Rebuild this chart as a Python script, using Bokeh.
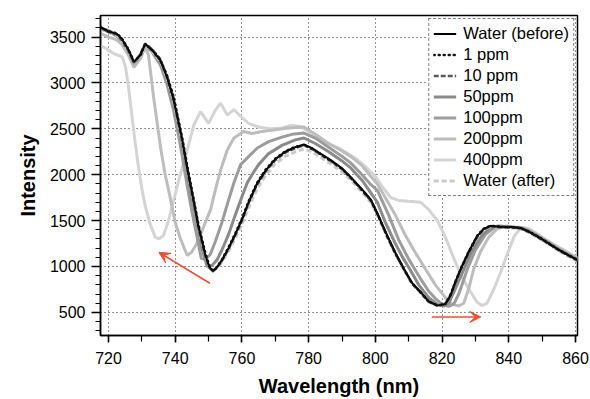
from bokeh.plotting import figure
from bokeh.models import (Range1d, Legend, LegendItem, Arrow, VeeHead,
                          SingleIntervalTicker)
from bokeh.embed import file_html
from bokeh.resources import INLINE

# ---------------- data ----------------
wl_base = [717.6, 720, 722.5, 724, 726, 727.6, 729.5, 731, 733, 735.5, 737.5, 739.5, 742, 744,
           745.6, 747, 749, 750.2, 751.2, 752.5, 754, 756, 758, 760, 762, 764.5, 767, 770, 773,
           776, 778.6, 781, 784, 787, 790, 793, 796, 798.6, 800.6, 803.6, 806, 808.6, 811, 813.6,
           816, 818.6, 821, 822.5, 824, 825.6, 828, 830.6, 832.5, 834.6, 838, 841, 843.6, 846,
           848, 851.6, 855, 858, 860.6]
water_before = [3610, 3560, 3535, 3480, 3360, 3230, 3300, 3425, 3360, 3250, 3070, 2820, 2400, 2000,
                1700, 1430, 1130, 1000, 950, 990, 1070, 1200, 1350, 1510, 1700, 1900, 2040, 2170,
                2250, 2300, 2330, 2290, 2220, 2150, 2070, 1960, 1840, 1731, 1580, 1334, 1150, 973,
                820, 721, 620, 576, 590, 680, 830, 973, 1160, 1334, 1410, 1442, 1430, 1430, 1420,
                1380, 1340, 1260, 1180, 1120, 1070]
ppm1 = [3605, 3565, 3540, 3485, 3365, 3235, 3295, 3420, 3365, 3255, 3085, 2850, 2420, 2020,
        1720, 1450, 1150, 1010, 960, 995, 1075, 1210, 1360, 1520, 1710, 1910, 2050, 2175,
        2255, 2305, 2325, 2285, 2215, 2145, 2065, 1955, 1835, 1725, 1575, 1330, 1145, 970,
        818, 718, 618, 574, 592, 688, 832, 975, 1162, 1338, 1412, 1445, 1432, 1428, 1418,
        1382, 1342, 1262, 1182, 1122, 1072]
ppm10 = [3600, 3555, 3530, 3470, 3350, 3220, 3310, 3430, 3370, 3260, 3080, 2840, 2380, 1980,
         1690, 1420, 1120, 990, 945, 985, 1060, 1190, 1340, 1500, 1690, 1890, 2030, 2160,
         2240, 2290, 2320, 2280, 2210, 2140, 2060, 1950, 1830, 1720, 1570, 1320, 1140, 965,
         815, 715, 615, 572, 595, 685, 825, 965, 1150, 1325, 1405, 1440, 1425, 1425, 1415,
         1375, 1335, 1255, 1175, 1115, 1065]
water_after = [3590, 3550, 3520, 3460, 3340, 3215, 3290, 3410, 3350, 3240, 3060, 2800, 2380, 1990,
               1700, 1420, 1120, 995, 950, 980, 1050, 1170, 1310, 1460, 1640, 1840, 1990, 2120,
               2200, 2250, 2280, 2250, 2180, 2110, 2030, 1930, 1810, 1700, 1560, 1320, 1140, 965,
               810, 715, 615, 575, 595, 690, 840, 980, 1165, 1335, 1405, 1435, 1425, 1420, 1410,
               1375, 1330, 1250, 1170, 1110, 1060]

wl_50 = [717.6, 720, 722.5, 724, 726, 727.6, 729.5, 731, 733, 735.5, 737.5, 739.5, 741.5, 743.5,
         745, 746.5, 748, 749.6, 751, 752.5, 754, 756, 758, 760, 761.6, 763, 765, 768, 772, 776,
         778.6, 782, 786, 790, 792.6, 796, 798.6, 800.6, 803, 806, 808, 810.3, 813, 816, 818.5,
         820.5, 822, 824, 826.6, 829, 832, 834.5, 836.5, 840, 843.6, 846, 848, 851.6, 855, 858,
         860.6]
ppm50 = [3600, 3570, 3520, 3470, 3350, 3220, 3300, 3420, 3350, 3230, 3040, 2780, 2450, 2050,
         1750, 1480, 1200, 1000, 1010, 1070, 1180, 1350, 1560, 1760, 1912, 2000, 2110, 2230,
         2320, 2380, 2400, 2340, 2250, 2150, 2074, 1940, 1804, 1700, 1480, 1250, 1110, 973,
         800, 660, 590, 570, 600, 760, 973, 1170, 1340, 1420, 1440, 1430, 1420, 1385, 1345,
         1265, 1185, 1125, 1075]

wl_100 = [717.6, 720, 722.5, 724, 726, 727.6, 729.5, 731, 733, 735.5, 737.5, 739.5, 741.5, 743.5,
          745, 746.5, 747.8, 749, 750.5, 752, 754, 755.8, 757.6, 759.6, 762.6, 764.6, 768, 772,
          775, 778.6, 782, 786, 790, 792.6, 796, 798.6, 800.6, 804, 807, 810, 812, 814, 816, 818,
          820, 822, 823.5, 825, 827.6, 830, 833, 835.5, 837.5, 840, 843.6, 846, 848, 851.6, 855,
          858, 860.6]
ppm100 = [3590, 3560, 3510, 3460, 3340, 3210, 3290, 3410, 3340, 3200, 2990, 2700, 2330, 1900,
          1600, 1330, 1090, 1075, 1130, 1270, 1480, 1700, 1912, 2110, 2219, 2291, 2360, 2410,
          2440, 2454, 2400, 2300, 2200, 2129, 2000, 1894, 1830, 1560, 1290, 1080, 960, 840, 730,
          650, 590, 565, 590, 700, 973, 1180, 1350, 1420, 1440, 1430, 1420, 1385, 1345, 1265,
          1185, 1125, 1075]

wl_200 = [717.6, 720, 722.5, 724, 726, 727.6, 729.5, 731, 732, 733.5, 735.6, 737, 738.5, 740,
          741.6, 743.6, 745, 746.6, 748.5, 750.6, 752, 753.6, 755.6, 757.6, 760.5, 763, 766, 770,
          774, 778.6, 782, 786, 790, 792.6, 796, 798.6, 800.6, 803, 806, 809, 812, 815, 818, 821,
          823, 825, 826.5, 828, 829.5, 831.5, 834, 836.5, 839, 842, 845, 848, 851.6, 855, 858,
          860.6]
ppm200 = [3540, 3500, 3470, 3420, 3300, 3170, 3260, 3390, 3300, 2850, 2300, 2000, 1750, 1480,
          1300, 1120, 1160, 1260, 1430, 1620, 1830, 2050, 2270, 2400, 2470, 2450, 2470, 2490,
          2510, 2520, 2440, 2340, 2260, 2200, 2100, 1984, 1900, 1750, 1560, 1340, 1150, 973,
          800, 660, 590, 570, 600, 760, 973, 1160, 1320, 1410, 1440, 1430, 1420, 1360, 1280,
          1200, 1140, 1090]

wl_400 = [717.6, 719, 721.6, 724.1, 725.1, 726, 727, 728, 729, 730, 731, 732.5, 734, 735.2, 736.5,
          738, 739.6, 741.5, 743.6, 745.6, 747.6, 750, 752, 753.6, 755.6, 757.6, 759.5, 762, 765,
          768.6, 772, 775, 778, 782, 786, 790, 794, 797, 800, 802.5, 804.6, 807, 810, 813.6, 816,
          818.6, 821, 823.6, 826, 828.6, 830.5, 832, 833.5, 835.6, 837.6, 839.5, 841.6, 843.6,
          846, 848, 851, 854, 857, 860.6]
ppm400 = [3410, 3380, 3320, 3284, 3175, 2950, 2650, 2350, 2080, 1850, 1660, 1460, 1320, 1300,
          1340, 1500, 1730, 2000, 2270, 2544, 2688, 2560, 2700, 2780, 2650, 2710, 2640, 2560,
          2520, 2500, 2510, 2540, 2520, 2420, 2340, 2270, 2180, 2090, 1980, 1850, 1750, 1720,
          1710, 1700, 1620, 1500, 1320, 1080, 880, 720, 610, 575, 600, 760, 940, 1130, 1330,
          1420, 1410, 1370, 1290, 1230, 1170, 1090]

# annotation arrows: (x_start, y_start, x_end, y_end)
arrow_blue = (750.4, 818, 735.1, 1154)
arrow_red = (816.9, 450, 831.6, 450)

# ---------------- figure ----------------
FONT = "Liberation Sans"
p = figure(width=590, height=399, output_backend="svg", toolbar_location=None,
           x_range=Range1d(717.6, 860.6), y_range=Range1d(248, 3735),
           min_border_left=100, min_border_right=13, min_border_top=15, min_border_bottom=62)

p.outline_line_color = "black"
p.outline_line_width = 1.5
p.background_fill_color = "white"
p.border_fill_color = "white"

series = [
    ("400ppm", wl_400, ppm400, dict(line_color="#d4d4d4", line_width=3)),
    ("200ppm", wl_200, ppm200, dict(line_color="#bdbdbd", line_width=3)),
    ("100ppm", wl_100, ppm100, dict(line_color="#9c9c9c", line_width=3)),
    ("50ppm", wl_50, ppm50, dict(line_color="#8a8a8a", line_width=3)),
    ("Water (after)", wl_base, water_after, dict(line_color="#cacaca", line_width=3, line_dash="5 3")),
    ("10 ppm", wl_base, ppm10, dict(line_color="#5a5a5a", line_width=2.5, line_dash="5 2")),
    ("Water (before)", wl_base, water_before, dict(line_color="black", line_width=2)),
    ("1 ppm", wl_base, ppm1, dict(line_color="#111111", line_width=2.5, line_dash="1 4",
                                  line_cap="round")),
]
rend = {}
for name, xs, ys, st in series:
    rend[name] = p.line(xs, ys, **st)

order = ["Water (before)", "1 ppm", "10 ppm", "50ppm", "100ppm", "200ppm", "400ppm", "Water (after)"]
legend = Legend(items=[LegendItem(label=n, renderers=[rend[n]]) for n in order],
                location="top_right", margin=3, padding=4, spacing=0,
                glyph_width=23, glyph_height=21, label_height=21, label_standoff=7,
                label_text_font=FONT, label_text_font_size="16.5px", label_text_color="black",
                border_line_color="black", border_line_dash="1 2", border_line_width=1,
                background_fill_color="white", background_fill_alpha=1.0)
p.add_layout(legend, "center")

red = "#f04e30"
for (x0, y0, x1, y1) in (arrow_blue, arrow_red):
    p.add_layout(Arrow(end=VeeHead(size=11, fill_color=red, line_color=red),
                       x_start=x0, y_start=y0, x_end=x1, y_end=y1,
                       line_color=red, line_width=1.6))

# axes
p.xaxis.ticker = SingleIntervalTicker(interval=20, num_minor_ticks=2)
p.yaxis.ticker = SingleIntervalTicker(interval=500, num_minor_ticks=5)
for ax in (p.xaxis[0], p.yaxis[0]):
    ax.axis_line_color = "black"
    ax.axis_line_width = 1.5
    ax.major_tick_line_color = "black"
    ax.minor_tick_line_color = "black"
    ax.major_tick_line_width = 1.5
    ax.minor_tick_line_width = 1.2
    ax.major_tick_in = 0
    ax.minor_tick_in = 0
    ax.major_label_text_font = FONT
    ax.major_label_text_font_size = "16px"
    ax.major_label_text_color = "black"
    ax.axis_label_text_font = FONT
    ax.axis_label_text_font_size = "20px"
    ax.axis_label_text_font_style = "bold"
    ax.axis_label_text_color = "black"
p.xaxis.major_tick_out = 7
p.xaxis.minor_tick_out = 6
p.yaxis.major_tick_out = 9
p.yaxis.minor_tick_out = 5
p.xaxis.major_label_standoff = 9
p.yaxis.major_label_standoff = 6
p.xaxis.axis_label = "Wavelength (nm)"
p.yaxis.axis_label = "Intensity"
p.xaxis.axis_label_standoff = 8
p.yaxis.axis_label_standoff = 8

for g in (p.xgrid[0], p.ygrid[0]):
    g.grid_line_color = "black"
    g.grid_line_dash = "1 3"
    g.grid_line_width = 1
    g.grid_line_alpha = 0.85

open("out.html", "w").write(file_html(p, INLINE))
